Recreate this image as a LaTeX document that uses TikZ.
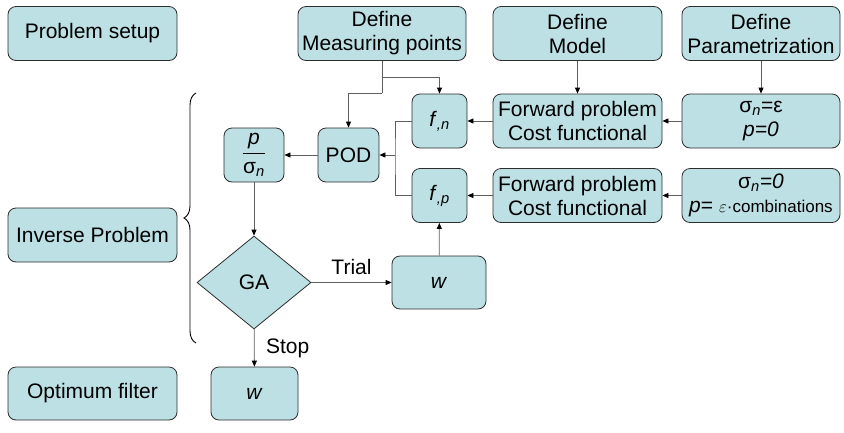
\documentclass[tikz,border=0pt]{standalone}
\usepackage{amsmath}
\usepackage{fontspec}
\setmainfont{Liberation Sans}
\usepackage{tikz}
\usetikzlibrary{arrows.meta,decorations.pathreplacing,shapes.geometric}
\definecolor{boxfill}{RGB}{188,224,227}
\definecolor{boxline}{RGB}{45,45,45}
\definecolor{linegray}{RGB}{95,95,95}

\begin{document}
\begin{tikzpicture}[x=1pt,y=-1pt,font=\fontsize{21}{24}\selectfont,
  blk/.style={draw=boxline,fill=boxfill,rounded corners=8pt,align=center,inner sep=0pt,minimum height=54pt,line width=0.8pt},
  wire/.style={draw=linegray,line width=0.8pt},
  arr/.style={wire,-{Triangle[length=6pt,width=5pt,color=black]}}]
  \useasboundingbox (0,0) rectangle (844,432);
  % stages
  \node[blk,minimum width=169pt] (setup) at (92.5,33.5) {Problem setup};
  \node[blk,minimum width=169pt] (inverse) at (92.5,235) {Inverse Problem};
  \node[blk,minimum width=169pt,minimum height=53pt] (optimum) at (92.5,393.5) {Optimum filter};
  \draw[decorate,decoration={brace,amplitude=12pt},line width=0.9pt] (196,343) -- (196,93);
  % definitions
  \node[blk,minimum width=168pt] (measure) at (382,33.5) {Define\\Measuring points};
  \node[blk,minimum width=169pt] (model) at (577.5,33.5) {Define\\Model};
  \node[blk,minimum width=158pt] (param) at (761,33.5) {Define\\Parametrization};
  % forward runs
  \node[blk,minimum width=158pt] (sigeps) at (761,121) {σ\textsubscript{\textit{n}}=ε\\\textit{p=0}};
  \node[blk,minimum width=158pt] (sigzero) at (761,195.5) {σ\textsubscript{\textit{n}}\textit{=0}\\\textit{p}= {\fontsize{17}{18}\selectfont$\varepsilon$·combinations}};
  \node[blk,minimum width=169pt] (fwdn) at (577.5,121) {Forward problem\\Cost functional};
  \node[blk,minimum width=169pt] (fwdp) at (577.5,195.5) {Forward problem\\Cost functional};
  \node[blk,minimum width=55pt] (fn) at (439.5,121) {\textit{f}\textsubscript{\textit{,n}}};
  \node[blk,minimum width=55pt] (fp) at (439.5,195.5) {\textit{f}\textsubscript{\textit{,p}}};
  \node[blk,minimum width=61pt] (pod) at (348.5,155) {POD};
  \node[blk,minimum width=60pt] (ratio) at (254,155) {$\dfrac{\mbox{\textit{p}}}{\mbox{σ\textsubscript{\textit{n}}}}$};
  % optimisation loop
  \node[diamond,draw=boxline,fill=boxfill,line width=0.8pt,inner sep=0pt,aspect=1.23,minimum width=114pt,minimum height=93pt] (ga) at (254,282.5) {GA};
  \node[blk,minimum width=94pt,minimum height=53pt] (trialw) at (439,282.5) {\textit{w}};
  \node[blk,minimum width=87pt,minimum height=53pt] (stopw) at (254.5,393.5) {\textit{w}};

  \coordinate (mj) at (382,77);
  \coordinate (mk) at (382,93);
  \coordinate (fj) at (395,155);
  \draw[wire] (measure.south) -- (mk);
  \draw[arr] (mk) -| (pod.north);
  \draw[arr] (mj) -| (fn.north);
  \draw[arr] (model) -- (fwdn);
  \draw[arr] (param) -- (sigeps);
  \draw[arr] (sigeps) -- (fwdn);
  \draw[arr] (sigzero) -- (fwdp);
  \draw[arr] (fwdn) -- (fn);
  \draw[arr] (fwdp) -- (fp);
  \draw[wire] (fn.west) -| (fj) |- (fp.west);
  \draw[arr] (fj) -- (pod.east);
  \draw[arr] (pod) -- (ratio);
  \draw[arr] (ratio) -- (ga);
  \draw[arr] (ga) -- node[midway,above=4pt] {Trial} (trialw);
  \draw[arr] (ga) -- node[midway,right=8pt] {Stop} (stopw);
  \draw[arr] (trialw) -- (fp);
\end{tikzpicture}
\end{document}
